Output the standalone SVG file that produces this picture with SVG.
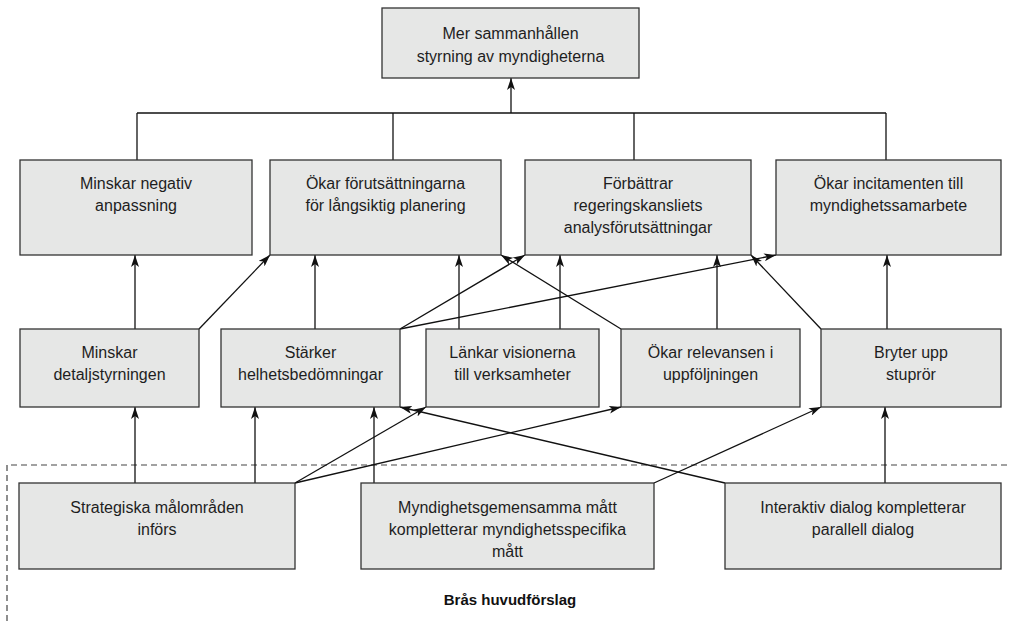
<svg xmlns="http://www.w3.org/2000/svg" width="1011" height="621" viewBox="0 0 1011 621">
<style>
.bg{fill:#ffffff}
.box{fill:#e6e7e6;stroke:#333333;stroke-width:1.3}
.t{font-family:"Liberation Sans",Arial,sans-serif;font-size:16px;fill:#1e1e1e;text-anchor:middle}
.c{stroke:#111111;stroke-width:1.3;fill:none}
.ca{stroke:#111111;stroke-width:1.3;fill:none;marker-end:url(#ah)}
.dash{stroke:#444444;stroke-width:1.2;fill:none;stroke-dasharray:6 4}
.lbl{font-family:"Liberation Sans",Arial,sans-serif;font-size:15px;font-weight:bold;fill:#111111;text-anchor:middle}
</style>
<defs>
<marker id="ah" viewBox="0 0 12 8" refX="12" refY="4" markerWidth="12" markerHeight="8" markerUnits="userSpaceOnUse" orient="auto">
<path d="M0,0 L12,4 L0,8 L3,4 z" fill="#111111"/>
</marker>
</defs>
<rect class="bg" x="0" y="0" width="1011" height="621"/>

<g id="frame">
<path class="dash" d="M7,621 L7,465 L1011,465"/>
<text class="lbl" x="510" y="605">Brås huvudförslag</text>
</g>

<g id="connectors">
<path class="ca" d="M511,113 L511,78"/>
<path class="c" d="M137,113 L886,113"/>
<path class="c" d="M137,113 L137,160"/>
<path class="c" d="M393,113 L393,160"/>
<path class="c" d="M634,113 L634,160"/>
<path class="c" d="M886,113 L886,160"/>

<path class="ca" d="M135,329 L135,255"/>
<path class="ca" d="M199,329 L270,255"/>
<path class="ca" d="M315,329 L315,255"/>
<path class="ca" d="M459,329 L459,255"/>
<path class="ca" d="M400,329 L525,255"/>
<path class="ca" d="M400,329 L776,255"/>
<path class="ca" d="M560,329 L560,255"/>
<path class="ca" d="M621,329 L501,255"/>
<path class="ca" d="M717,329 L717,255"/>
<path class="ca" d="M821,329 L751,255"/>
<path class="ca" d="M887,329 L887,255"/>

<path class="ca" d="M135,483 L135,407"/>
<path class="ca" d="M255,483 L255,407"/>
<path class="ca" d="M295,483 L426,407"/>
<path class="ca" d="M295,483 L621,407"/>
<path class="ca" d="M374,483 L374,407"/>
<path class="ca" d="M654,483 L821,407"/>
<path class="ca" d="M725,483 L400,407"/>
<path class="ca" d="M885,483 L885,407"/>
</g>

<g id="n-top">
<rect class="box" x="382" y="8" width="257" height="70"/>
<text class="t" x="510.5" y="39">Mer sammanhållen</text>
<text class="t" x="510.5" y="62">styrning av myndigheterna</text>
</g>

<g id="n-negativ">
<rect class="box" x="20" y="160" width="232" height="95"/>
<text class="t" x="136" y="189">Minskar negativ</text>
<text class="t" x="136" y="211">anpassning</text>
</g>
<g id="n-langsiktig">
<rect class="box" x="270" y="160" width="231" height="95"/>
<text class="t" x="385.5" y="189">Ökar förutsättningarna</text>
<text class="t" x="385.5" y="211">för långsiktig planering</text>
</g>
<g id="n-analys">
<rect class="box" x="525" y="160" width="226" height="95"/>
<text class="t" x="638" y="189">Förbättrar</text>
<text class="t" x="638" y="211">regeringskansliets</text>
<text class="t" x="638" y="233">analysförutsättningar</text>
</g>
<g id="n-incitament">
<rect class="box" x="776" y="160" width="225" height="95"/>
<text class="t" x="888.5" y="189">Ökar incitamenten till</text>
<text class="t" x="888.5" y="211">myndighetssamarbete</text>
</g>

<g id="n-detalj">
<rect class="box" x="20" y="329" width="179" height="78"/>
<text class="t" x="109.5" y="358">Minskar</text>
<text class="t" x="109.5" y="380">detaljstyrningen</text>
</g>
<g id="n-starker">
<rect class="box" x="221" y="329" width="179" height="78"/>
<text class="t" x="310.5" y="358">Stärker</text>
<text class="t" x="310.5" y="380">helhetsbedömningar</text>
</g>
<g id="n-lankar">
<rect class="box" x="426" y="329" width="173" height="78"/>
<text class="t" x="512.5" y="358">Länkar visionerna</text>
<text class="t" x="512.5" y="380">till verksamheter</text>
</g>
<g id="n-relevans">
<rect class="box" x="621" y="329" width="179" height="78"/>
<text class="t" x="710.5" y="358">Ökar relevansen i</text>
<text class="t" x="710.5" y="380">uppföljningen</text>
</g>
<g id="n-stupror">
<rect class="box" x="821" y="329" width="180" height="78"/>
<text class="t" x="911" y="358">Bryter upp</text>
<text class="t" x="911" y="380">stuprör</text>
</g>

<g id="n-strategiska">
<rect class="box" x="19" y="483" width="276" height="86"/>
<text class="t" x="157" y="513">Strategiska målområden</text>
<text class="t" x="157" y="535">införs</text>
</g>
<g id="n-matt">
<rect class="box" x="361" y="483" width="293" height="86"/>
<text class="t" x="507.5" y="513">Myndighetsgemensamma mått</text>
<text class="t" x="507.5" y="535">kompletterar myndighetsspecifika</text>
<text class="t" x="507.5" y="557">mått</text>
</g>
<g id="n-dialog">
<rect class="box" x="725" y="483" width="276" height="86"/>
<text class="t" x="863" y="513">Interaktiv dialog kompletterar</text>
<text class="t" x="863" y="535">parallell dialog</text>
</g>
</svg>
